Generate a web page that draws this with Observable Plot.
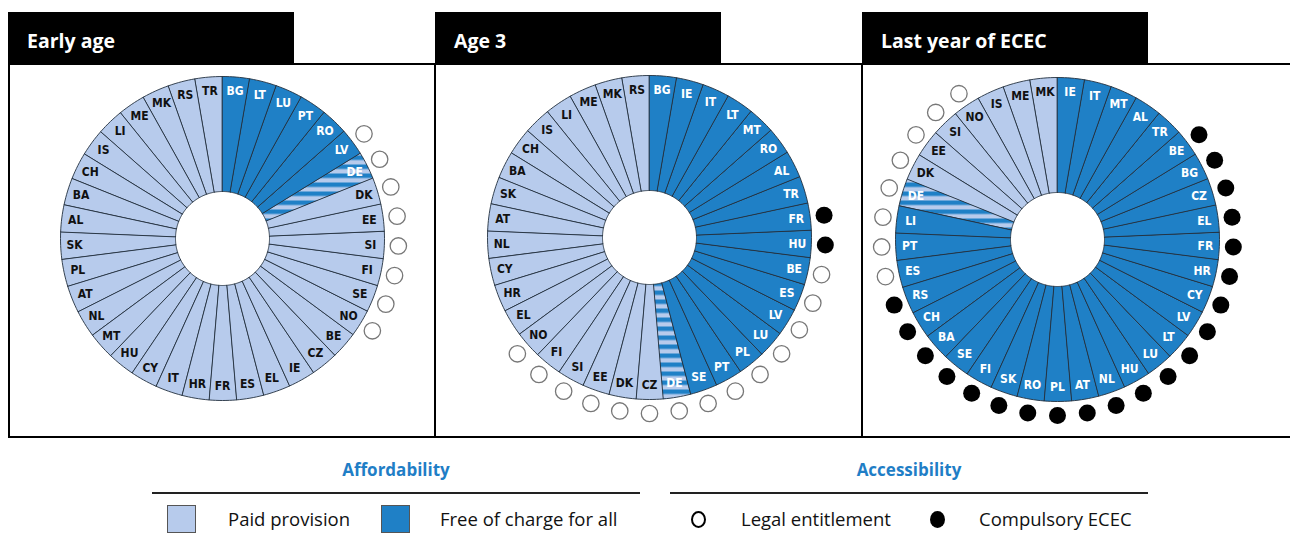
<!DOCTYPE html>
<html>
<head>
<meta charset="utf-8">
<script src="https://cdn.jsdelivr.net/npm/d3@7"></script>
<script src="https://cdn.jsdelivr.net/npm/@observablehq/plot@0.6"></script>
<style>
  html, body { margin: 0; padding: 0; background: #fff; }
  #page { position: relative; width: 1290px; height: 541px; overflow: hidden; font-family: "Open Sans", "Noto Sans", sans-serif; }
  .hdr { position: absolute; top: 12px; height: 52px; width: 286px; background: #000; color: #fff;
         font-weight: 700; font-size: 19.5px; line-height: 58px; padding-left: 19px; box-sizing: border-box; }
  .hl { position: absolute; height: 2px; background: #000; }
  .vl { position: absolute; width: 2px; background: #000; }
  .panel { position: absolute; top: 65px; }
  .ltitle { position: absolute; top: 458px; color: #1f7ec6; font-weight: 700; font-size: 17px; transform: translateX(-50%); white-space: nowrap; }
  .lline { position: absolute; top: 492px; height: 2px; background: #222; }
  .sw { position: absolute; top: 505px; width: 29px; height: 28px; box-sizing: border-box; border: 1px solid #555; }
  .ltxt { position: absolute; top: 506px; font-size: 18.5px; color: #111; white-space: nowrap; }
  .cir { position: absolute; top: 511px; width: 15px; height: 17px; box-sizing: border-box; border-radius: 50%; }
</style>
</head>
<body>
<div id="page"></div>
<script>
// ---------- DATA ----------
const panelTitles = ["Early age", "Age 3", "Last year of ECEC"];

const countries1 = ["BG","LT","LU","PT","RO","LV","DE","DK","EE","SI","FI","SE","NO","BE","CZ","IE","EL","ES","FR","HR","IT","CY","HU","MT","NL","AT","PL","SK","AL","BA","CH","IS","LI","ME","MK","RS","TR"];
const free1 = ["BG","LT","LU","PT","RO","LV"];
const partial1 = ["DE"];
const entitlement1 = ["LV","DE","DK","EE","SI","FI","SE","NO"];
const compulsory1 = [];

const countries2 = ["BG","IE","IT","LT","MT","RO","AL","TR","FR","HU","BE","ES","LV","LU","PL","PT","SE","DE","CZ","DK","EE","SI","FI","NO","EL","HR","CY","NL","AT","SK","BA","CH","IS","LI","ME","MK","RS"];
const free2 = ["BG","IE","IT","LT","MT","RO","AL","TR","FR","HU","BE","ES","LV","LU","PL","PT","SE"];
const partial2 = ["DE"];
const entitlement2 = ["BE","ES","LV","LU","PL","PT","SE","DE","CZ","DK","EE","SI","FI","NO"];
const compulsory2 = ["FR","HU"];

const countries3 = ["IE","IT","MT","AL","TR","BE","BG","CZ","EL","FR","HR","CY","LV","LT","LU","HU","NL","AT","PL","RO","SK","FI","SE","BA","CH","RS","ES","PT","LI","DE","DK","EE","SI","NO","IS","ME","MK"];
const free3 = ["IE","IT","MT","AL","TR","BE","BG","CZ","EL","FR","HR","CY","LV","LT","LU","HU","NL","AT","PL","RO","SK","FI","SE","BA","CH","RS","ES","PT","LI"];
const partial3 = ["DE"];
const entitlement3 = ["ES","PT","LI","DE","DK","EE","SI","NO"];
const compulsory3 = ["BE","BG","CZ","EL","FR","HR","CY","LV","LT","LU","HU","NL","AT","PL","RO","SK","FI","SE","BA","CH","RS"];

const legendAfford = ["Paid provision", "Free of charge for all"];
const legendAccess = ["Legal entitlement", "Compulsory ECEC"];

// ---------- STYLE / LAYOUT ----------
const LIGHT = "#b7cbec", DARK = "#1f80c6";
const panelsCfg = [
  {countries: countries1, free: free1, partial: partial1, ent: entitlement1, comp: compulsory1, left: 10, cx: 212, cy: 173},
  {countries: countries2, free: free2, partial: partial2, ent: entitlement2, comp: compulsory2, left: 436, cx: 213, cy: 172},
  {countries: countries3, free: free3, partial: partial3, ent: entitlement3, comp: compulsory3, left: 863, cx: 194, cy: 174}
];
const PW = 424, PH = 371, R_IN = 47, R_OUT = 162, R_LAB = 148, R_DOT = 176;

const page = document.getElementById("page");
function el(cls, style, text) {
  const d = document.createElement("div");
  d.className = cls;
  Object.assign(d.style, style);
  if (text) d.textContent = text;
  page.appendChild(d);
  return d;
}

// headers & frames
[8, 435, 862].forEach((x, k) => el("hdr", {left: x + "px"}, panelTitles[k]));
el("hl", {left: "8px", top: "63px", width: "1282px"});
el("hl", {left: "8px", top: "436px", width: "1282px"});
[8, 434, 861].forEach(x => el("vl", {left: x + "px", top: "63px", height: "375px"}));

// ---------- DONUTS ----------
panelsCfg.forEach((p, k) => {
  const n = p.countries.length;
  const status = c => p.free.includes(c) ? "free" : p.partial.includes(c) ? "partial" : "paid";
  const pts = [];
  const labels = [];
  const dots = [];
  p.countries.forEach((c, i) => {
    const a0 = i / n * 2 * Math.PI, a1 = (i + 1) / n * 2 * Math.PI;
    const st = status(c);
    const steps = 8;
    for (let s = 0; s <= steps; s++) {
      const a = a0 + (a1 - a0) * s / steps;
      pts.push({id: c, status: st, x: R_OUT * Math.sin(a), y: R_OUT * Math.cos(a)});
    }
    for (let s = steps; s >= 0; s--) {
      const a = a0 + (a1 - a0) * s / steps;
      pts.push({id: c, status: st, x: R_IN * Math.sin(a), y: R_IN * Math.cos(a)});
    }
    const am = (a0 + a1) / 2;
    labels.push({code: c, status: st, x: R_LAB * Math.sin(am), y: R_LAB * Math.cos(am)});
    if (p.ent.includes(c) || p.comp.includes(c)) {
      dots.push({code: c, kind: p.comp.includes(c) ? "comp" : "ent", x: R_DOT * Math.sin(am), y: R_DOT * Math.cos(am)});
    }
  });
  const patId = "stripes" + k;
  const wedge = (st, fill) => Plot.line(pts.filter(d => d.status === st), {
    x: "x", y: "y", z: "id", fill, stroke: "#22303e", strokeWidth: 0.9, curve: "linear-closed", strokeLinejoin: "round"
  });
  const font = "'DejaVu Sans Condensed', 'DejaVu Sans', sans-serif";
  const chart = Plot.plot({
    width: PW, height: PH,
    marginTop: 0, marginRight: 0, marginBottom: 0, marginLeft: 0,
    x: {domain: [-p.cx, PW - p.cx], axis: null},
    y: {domain: [-(PH - p.cy), p.cy], axis: null},
    style: {overflow: "visible", background: "transparent"},
    marks: [
      wedge("paid", LIGHT),
      wedge("free", DARK),
      wedge("partial", `url(#${patId})`),
      Plot.text(labels.filter(d => d.status === "paid"), {x: "x", y: "y", text: "code", fill: "#111", fontWeight: "bold", fontSize: 12, fontFamily: font}),
      Plot.text(labels.filter(d => d.status !== "paid"), {x: "x", y: "y", text: "code", fill: "#fff", fontWeight: "bold", fontSize: 12, fontFamily: font}),
      Plot.dot(dots.filter(d => d.kind === "ent"), {x: "x", y: "y", r: 8.2, fill: "#fff", stroke: "#777", strokeWidth: 1.3}),
      Plot.dot(dots.filter(d => d.kind === "comp"), {x: "x", y: "y", r: 8.5, fill: "#000", stroke: "none"})
    ]
  });
  const ns = "http://www.w3.org/2000/svg";
  const defs = document.createElementNS(ns, "defs");
  defs.innerHTML = `<pattern id="${patId}" patternUnits="userSpaceOnUse" width="20" height="9">
      <rect width="20" height="9" fill="${LIGHT}"></rect>
      <rect width="20" height="4.5" fill="${DARK}"></rect></pattern>`;
  chart.insertBefore(defs, chart.firstChild);
  const wrap = el("panel", {left: p.left + "px", width: PW + "px", height: PH + "px"});
  wrap.appendChild(chart);
});

// ---------- LEGEND ----------
el("ltitle", {left: "396px"}, "Affordability");
el("ltitle", {left: "909px"}, "Accessibility");
el("lline", {left: "152px", width: "488px"});
el("lline", {left: "670px", width: "478px"});
el("sw", {left: "167px", background: LIGHT});
el("ltxt", {left: "228px"}, legendAfford[0]);
el("sw", {left: "381px", background: DARK});
el("ltxt", {left: "440px"}, legendAfford[1]);
el("cir", {left: "691px", border: "2.5px solid #000", background: "#fff"});
el("ltxt", {left: "741px"}, legendAccess[0]);
el("cir", {left: "930px", background: "#000"});
el("ltxt", {left: "979px"}, legendAccess[1]);
</script>
</body>
</html>
